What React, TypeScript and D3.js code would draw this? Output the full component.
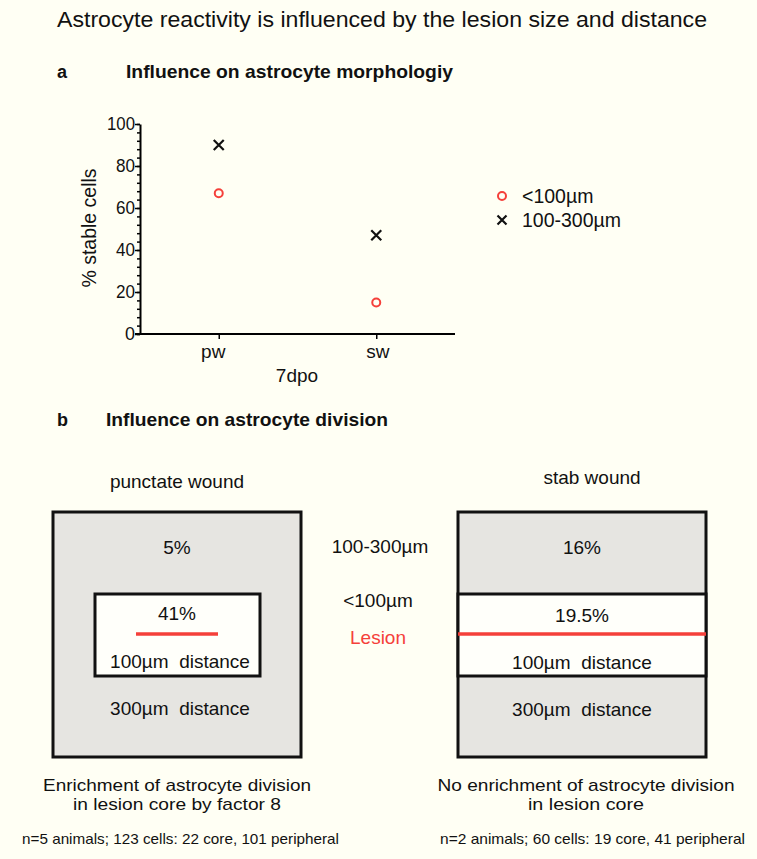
import React, { useEffect, useRef } from 'react';
import * as d3 from 'd3';

// panel a data
const groups = ['pw', 'sw'];
const near = [67, 15]; // <100µm
const far = [90, 47]; // 100-300µm
const yTicks = [0, 20, 40, 60, 80, 100];
const seriesNames = ['<100µm', '100-300µm'];

// panel b data
const woundNames = ['punctate wound', 'stab wound'];
const pwShares = ['5%', '41%'];
const swShares = ['16%', '19.5%'];
const zoneNames = ['100-300µm', '<100µm', 'Lesion'];
const distLabels = ['100µm  distance', '300µm  distance'];
const conclusions = [
  ['Enrichment of astrocyte division', 'in lesion core by factor 8'],
  ['No enrichment of astrocyte division', 'in lesion core']
];
const counts = [
  'n=5 animals; 123 cells: 22 core, 101 peripheral',
  'n=2 animals; 60 cells: 19 core, 41 peripheral'
];

const W = 757;
const H = 859;
const BG = '#FFFFF4';
const GREY = '#E6E5E1';
const RED = '#F5403A';
const FONT = 'Liberation Sans, Arial, sans-serif';
const FS = 19;

// widths of the two-line notes under the boxes
const noteWidths = [
  [268, 208],
  [297, 116]
];

const App = (): JSX.Element => {
  const axisRef = useRef<SVGGElement>(null);

  const x = d3.scalePoint<string>().domain(groups).range([140, 455]).padding(0.5);
  const y = d3.scaleLinear().domain([0, 100]).range([334, 124]);

  useEffect(() => {
    const g = d3.select(axisRef.current);
    g.selectAll('*').remove();

    // minor ticks every 4 units
    g.append('g')
      .attr('transform', 'translate(140,0)')
      .call(d3.axisLeft(y).tickValues(d3.range(0, 101, 4)).tickSize(3).tickFormat(() => ''))
      .call((s) => s.select('.domain').remove())
      .selectAll('line')
      .attr('stroke-width', 1.5);

    // y axis
    const ya = g
      .append('g')
      .attr('transform', 'translate(140,0)')
      .call(d3.axisLeft(y).tickValues(yTicks).tickSize(5).tickSizeOuter(0).tickPadding(0));
    ya.select('.domain').attr('stroke-width', 2);
    ya.selectAll('line').attr('stroke-width', 1.5);
    ya.selectAll('text')
      .attr('font-size', 18.5)
      .attr('font-family', FONT)
      .attr('fill', '#111')
      .attr('textLength', (d) => ((d as number) === 100 ? 28 : (d as number) === 0 ? 10 : 19))
      .attr('lengthAdjust', 'spacingAndGlyphs');

    // x axis
    const xa = g
      .append('g')
      .attr('transform', 'translate(0,334)')
      .call(d3.axisBottom(x).tickSize(5).tickSizeOuter(0).tickPadding(6));
    xa.select('.domain').attr('d', 'M135,0H455').attr('stroke-width', 2);
    xa.selectAll('line').attr('stroke-width', 1.5);
    xa.selectAll('text')
      .attr('font-size', FS)
      .attr('font-family', FONT)
      .attr('fill', '#111')
      .attr('dx', (d) => (d === 'pw' ? -6 : 1));
  }, []);

  const cross = (cx: number, cy: number, r: number) => (
    <path d={`M${cx - r},${cy - r}L${cx + r},${cy + r}M${cx - r},${cy + r}L${cx + r},${cy - r}`} stroke="#111" strokeWidth={2.2} />
  );

  const txt = { fontFamily: FONT, fill: '#111', style: { whiteSpace: 'pre' as const } };

  return (
    <svg width={W} height={H} style={{ position: 'absolute', left: 0, top: 0, background: BG }}>
      <rect width={W} height={H} fill={BG} />
      <text x={57} y={27} fontSize={22.5} {...txt} textLength={650} lengthAdjust="spacingAndGlyphs">
        Astrocyte reactivity is influenced by the lesion size and distance
      </text>

      {/* panel a */}
      <text x={57} y={78} fontSize={18} fontWeight="bold" {...txt}>a</text>
      <text x={126} y={78} fontSize={19} fontWeight="bold" {...txt} textLength={327} lengthAdjust="spacingAndGlyphs">
        Influence on astrocyte morphologiy
      </text>

      <g ref={axisRef} />
      <text transform="translate(96,228) rotate(-90)" textAnchor="middle" fontSize={19.5} {...txt}>% stable cells</text>
      <text x={297} y={382} textAnchor="middle" fontSize={FS} {...txt}>7dpo</text>

      {groups.map((gName, i) => (
        <g key={gName}>
          <circle cx={x(gName)} cy={y(near[i])} r={4} fill="none" stroke={RED} strokeWidth={2} />
          {cross(x(gName) as number, y(far[i]), 5)}
        </g>
      ))}

      {/* legend */}
      <circle cx={502} cy={196} r={4} fill="none" stroke={RED} strokeWidth={2} />
      <text x={522} y={203} fontSize={19.5} {...txt}>{seriesNames[0]}</text>
      {cross(502, 220, 4.5)}
      <text x={522} y={227} fontSize={19.5} {...txt}>{seriesNames[1]}</text>

      {/* panel b */}
      <text x={57} y={426} fontSize={18} fontWeight="bold" {...txt}>b</text>
      <text x={106} y={426} fontSize={19} fontWeight="bold" {...txt} textLength={282} lengthAdjust="spacingAndGlyphs">
        Influence on astrocyte division
      </text>

      <text x={177} y={488} textAnchor="middle" fontSize={FS} {...txt}>{woundNames[0]}</text>
      <text x={592} y={484} textAnchor="middle" fontSize={FS} {...txt}>{woundNames[1]}</text>

      {/* punctate wound */}
      <rect x={53} y={512} width={248} height={245} fill={GREY} stroke="#111" strokeWidth={3} />
      <rect x={95} y={594} width={165} height={82} fill="#FFFFFA" stroke="#111" strokeWidth={3} />
      <line x1={136} x2={218} y1={634} y2={634} stroke={RED} strokeWidth={3.5} />
      <text x={177} y={554} textAnchor="middle" fontSize={FS} {...txt}>{pwShares[0]}</text>
      <text x={177} y={620} textAnchor="middle" fontSize={FS} {...txt}>{pwShares[1]}</text>
      <text x={180} y={668} textAnchor="middle" fontSize={FS} {...txt}>{distLabels[0]}</text>
      <text x={180} y={715} textAnchor="middle" fontSize={FS} {...txt}>{distLabels[1]}</text>

      {/* zone labels */}
      <text x={380} y={553} textAnchor="middle" fontSize={FS} {...txt}>{zoneNames[0]}</text>
      <text x={378} y={607} textAnchor="middle" fontSize={FS} {...txt}>{zoneNames[1]}</text>
      <text x={378} y={644} textAnchor="middle" fontSize={FS} fontFamily={FONT} fill={RED}>{zoneNames[2]}</text>

      {/* stab wound */}
      <rect x={458} y={512} width={248} height={245} fill={GREY} stroke="#111" strokeWidth={3} />
      <rect x={458} y={594} width={248} height={82} fill="#FFFFFA" stroke="#111" strokeWidth={3} />
      <line x1={458} x2={706} y1={634} y2={634} stroke={RED} strokeWidth={3.5} />
      <text x={582} y={554} textAnchor="middle" fontSize={FS} {...txt}>{swShares[0]}</text>
      <text x={582} y={622} textAnchor="middle" fontSize={FS} {...txt}>{swShares[1]}</text>
      <text x={582} y={669} textAnchor="middle" fontSize={FS} {...txt}>{distLabels[0]}</text>
      <text x={582} y={716} textAnchor="middle" fontSize={FS} {...txt}>{distLabels[1]}</text>

      {/* conclusions */}
      {conclusions.map((lines, i) => (
        <g key={i}>
          {lines.map((l, j) => (
            <text
              key={j}
              x={i === 0 ? 177 : 586}
              y={791 + j * 19}
              textAnchor="middle"
              fontSize={17}
              {...txt}
              textLength={noteWidths[i][j]}
              lengthAdjust="spacingAndGlyphs"
            >
              {l}
            </text>
          ))}
        </g>
      ))}
      {counts.map((c, i) => (
        <text
          key={i}
          x={i === 0 ? 22 : 440}
          y={844}
          fontSize={15}
          {...txt}
          textLength={i === 0 ? 317 : 305}
          lengthAdjust="spacingAndGlyphs"
        >
          {c}
        </text>
      ))}
    </svg>
  );
};

export default App;
